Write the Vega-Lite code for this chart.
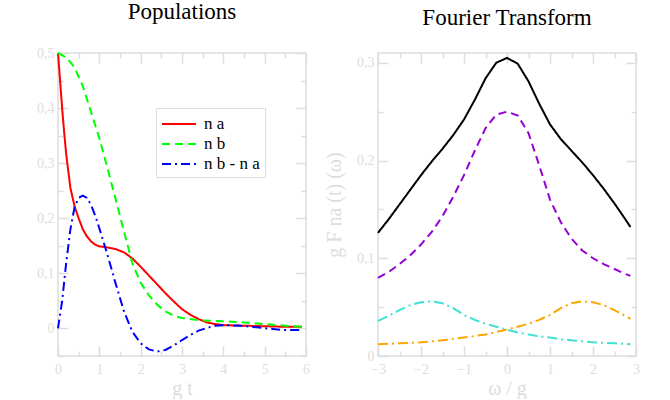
{
  "$schema": "https://vega.github.io/schema/vega-lite/v6.json",
  "padding": {"left": 35, "top": 0, "right": 5, "bottom": 0},
  "spacing": 12,
  "datasets": {
    "pop": [
      {"t": 0, "v": 0.5, "s": "n a"}, {"t": 0.05, "v": 0.45, "s": "n a"}, {"t": 0.1, "v": 0.4, "s": "n a"},
      {"t": 0.15, "v": 0.355, "s": "n a"}, {"t": 0.2, "v": 0.315, "s": "n a"}, {"t": 0.3, "v": 0.255, "s": "n a"},
      {"t": 0.4, "v": 0.222, "s": "n a"}, {"t": 0.5, "v": 0.2, "s": "n a"}, {"t": 0.6, "v": 0.18, "s": "n a"},
      {"t": 0.7, "v": 0.167, "s": "n a"}, {"t": 0.8, "v": 0.158, "s": "n a"}, {"t": 0.9, "v": 0.152, "s": "n a"},
      {"t": 1.0, "v": 0.149, "s": "n a"}, {"t": 1.2, "v": 0.147, "s": "n a"}, {"t": 1.4, "v": 0.144, "s": "n a"},
      {"t": 1.6, "v": 0.138, "s": "n a"}, {"t": 1.8, "v": 0.127, "s": "n a"}, {"t": 2.0, "v": 0.112, "s": "n a"},
      {"t": 2.2, "v": 0.096, "s": "n a"}, {"t": 2.4, "v": 0.08, "s": "n a"}, {"t": 2.6, "v": 0.064, "s": "n a"},
      {"t": 2.8, "v": 0.049, "s": "n a"}, {"t": 3.0, "v": 0.035, "s": "n a"}, {"t": 3.2, "v": 0.025, "s": "n a"},
      {"t": 3.4, "v": 0.017, "s": "n a"}, {"t": 3.6, "v": 0.011, "s": "n a"}, {"t": 3.8, "v": 0.008, "s": "n a"},
      {"t": 4.0, "v": 0.006, "s": "n a"}, {"t": 4.5, "v": 0.005, "s": "n a"}, {"t": 5.0, "v": 0.004, "s": "n a"},
      {"t": 5.5, "v": 0.003, "s": "n a"}, {"t": 5.9, "v": 0.003, "s": "n a"},

      {"t": 0, "v": 0.5, "s": "n b"}, {"t": 0.2, "v": 0.492, "s": "n b"}, {"t": 0.4, "v": 0.474, "s": "n b"},
      {"t": 0.6, "v": 0.44, "s": "n b"}, {"t": 0.8, "v": 0.393, "s": "n b"}, {"t": 1.0, "v": 0.345, "s": "n b"},
      {"t": 1.2, "v": 0.29, "s": "n b"}, {"t": 1.4, "v": 0.233, "s": "n b"}, {"t": 1.6, "v": 0.175, "s": "n b"},
      {"t": 1.8, "v": 0.118, "s": "n b"}, {"t": 2.0, "v": 0.083, "s": "n b"}, {"t": 2.2, "v": 0.06, "s": "n b"},
      {"t": 2.4, "v": 0.043, "s": "n b"}, {"t": 2.6, "v": 0.031, "s": "n b"}, {"t": 2.8, "v": 0.023, "s": "n b"},
      {"t": 3.0, "v": 0.019, "s": "n b"}, {"t": 3.4, "v": 0.015, "s": "n b"}, {"t": 4.0, "v": 0.013, "s": "n b"},
      {"t": 4.5, "v": 0.011, "s": "n b"}, {"t": 5.0, "v": 0.008, "s": "n b"}, {"t": 5.5, "v": 0.005, "s": "n b"},
      {"t": 5.9, "v": 0.003, "s": "n b"},

      {"t": 0, "v": 0, "s": "n b - n a"}, {"t": 0.1, "v": 0.05, "s": "n b - n a"}, {"t": 0.2, "v": 0.12, "s": "n b - n a"},
      {"t": 0.3, "v": 0.18, "s": "n b - n a"}, {"t": 0.4, "v": 0.22, "s": "n b - n a"}, {"t": 0.5, "v": 0.237, "s": "n b - n a"},
      {"t": 0.6, "v": 0.241, "s": "n b - n a"}, {"t": 0.7, "v": 0.237, "s": "n b - n a"}, {"t": 0.8, "v": 0.224, "s": "n b - n a"},
      {"t": 0.9, "v": 0.205, "s": "n b - n a"}, {"t": 1.0, "v": 0.182, "s": "n b - n a"}, {"t": 1.2, "v": 0.133, "s": "n b - n a"},
      {"t": 1.4, "v": 0.08, "s": "n b - n a"}, {"t": 1.6, "v": 0.03, "s": "n b - n a"}, {"t": 1.8, "v": -0.006, "s": "n b - n a"},
      {"t": 2.0, "v": -0.027, "s": "n b - n a"}, {"t": 2.2, "v": -0.038, "s": "n b - n a"}, {"t": 2.4, "v": -0.042, "s": "n b - n a"},
      {"t": 2.6, "v": -0.039, "s": "n b - n a"}, {"t": 2.8, "v": -0.031, "s": "n b - n a"}, {"t": 3.0, "v": -0.021, "s": "n b - n a"},
      {"t": 3.2, "v": -0.012, "s": "n b - n a"}, {"t": 3.4, "v": -0.004, "s": "n b - n a"}, {"t": 3.6, "v": 0.001, "s": "n b - n a"},
      {"t": 3.8, "v": 0.005, "s": "n b - n a"}, {"t": 4.0, "v": 0.006, "s": "n b - n a"}, {"t": 4.4, "v": 0.005, "s": "n b - n a"},
      {"t": 4.8, "v": 0.002, "s": "n b - n a"}, {"t": 5.2, "v": -0.001, "s": "n b - n a"}, {"t": 5.5, "v": -0.003, "s": "n b - n a"},
      {"t": 5.9, "v": -0.003, "s": "n b - n a"}
    ],
    "ft": [
      {"w": -3, "f": 0.126, "c": "total"}, {"w": -2.75, "f": 0.14, "c": "total"}, {"w": -2.5, "f": 0.155, "c": "total"},
      {"w": -2.25, "f": 0.17, "c": "total"}, {"w": -2, "f": 0.185, "c": "total"}, {"w": -1.75, "f": 0.199, "c": "total"},
      {"w": -1.5, "f": 0.212, "c": "total"}, {"w": -1.25, "f": 0.226, "c": "total"}, {"w": -1, "f": 0.242, "c": "total"},
      {"w": -0.75, "f": 0.262, "c": "total"}, {"w": -0.5, "f": 0.284, "c": "total"}, {"w": -0.25, "f": 0.3, "c": "total"},
      {"w": 0, "f": 0.305, "c": "total"}, {"w": 0.25, "f": 0.299, "c": "total"}, {"w": 0.5, "f": 0.281, "c": "total"},
      {"w": 0.75, "f": 0.258, "c": "total"}, {"w": 1, "f": 0.237, "c": "total"}, {"w": 1.25, "f": 0.222, "c": "total"},
      {"w": 1.5, "f": 0.21, "c": "total"}, {"w": 1.75, "f": 0.198, "c": "total"}, {"w": 2, "f": 0.185, "c": "total"},
      {"w": 2.25, "f": 0.171, "c": "total"}, {"w": 2.5, "f": 0.156, "c": "total"}, {"w": 2.75, "f": 0.14, "c": "total"},
      {"w": 2.87, "f": 0.132, "c": "total"},

      {"w": -3, "f": 0.08, "c": "main"}, {"w": -2.75, "f": 0.086, "c": "main"}, {"w": -2.5, "f": 0.094, "c": "main"},
      {"w": -2.25, "f": 0.103, "c": "main"}, {"w": -2, "f": 0.114, "c": "main"}, {"w": -1.75, "f": 0.127, "c": "main"},
      {"w": -1.5, "f": 0.143, "c": "main"}, {"w": -1.25, "f": 0.163, "c": "main"}, {"w": -1, "f": 0.185, "c": "main"},
      {"w": -0.75, "f": 0.21, "c": "main"}, {"w": -0.5, "f": 0.233, "c": "main"}, {"w": -0.25, "f": 0.247, "c": "main"},
      {"w": 0, "f": 0.25, "c": "main"}, {"w": 0.25, "f": 0.246, "c": "main"}, {"w": 0.5, "f": 0.228, "c": "main"},
      {"w": 0.75, "f": 0.195, "c": "main"}, {"w": 1, "f": 0.16, "c": "main"}, {"w": 1.25, "f": 0.137, "c": "main"},
      {"w": 1.5, "f": 0.12, "c": "main"}, {"w": 1.75, "f": 0.108, "c": "main"}, {"w": 2, "f": 0.1, "c": "main"},
      {"w": 2.25, "f": 0.094, "c": "main"}, {"w": 2.5, "f": 0.089, "c": "main"}, {"w": 2.75, "f": 0.084, "c": "main"},
      {"w": 2.87, "f": 0.082, "c": "main"},

      {"w": -3, "f": 0.036, "c": "left"}, {"w": -2.75, "f": 0.041, "c": "left"}, {"w": -2.5, "f": 0.047, "c": "left"},
      {"w": -2.25, "f": 0.052, "c": "left"}, {"w": -2, "f": 0.055, "c": "left"}, {"w": -1.75, "f": 0.056, "c": "left"},
      {"w": -1.5, "f": 0.054, "c": "left"}, {"w": -1.25, "f": 0.049, "c": "left"}, {"w": -1, "f": 0.042, "c": "left"},
      {"w": -0.75, "f": 0.037, "c": "left"}, {"w": -0.5, "f": 0.033, "c": "left"}, {"w": -0.25, "f": 0.03, "c": "left"},
      {"w": 0, "f": 0.027, "c": "left"}, {"w": 0.25, "f": 0.024, "c": "left"}, {"w": 0.5, "f": 0.022, "c": "left"},
      {"w": 0.75, "f": 0.02, "c": "left"}, {"w": 1, "f": 0.019, "c": "left"}, {"w": 1.25, "f": 0.017, "c": "left"},
      {"w": 1.5, "f": 0.016, "c": "left"}, {"w": 1.75, "f": 0.015, "c": "left"}, {"w": 2, "f": 0.014, "c": "left"},
      {"w": 2.5, "f": 0.013, "c": "left"}, {"w": 2.87, "f": 0.012, "c": "left"},

      {"w": -3, "f": 0.012, "c": "right"}, {"w": -2.5, "f": 0.013, "c": "right"}, {"w": -2, "f": 0.014, "c": "right"},
      {"w": -1.5, "f": 0.016, "c": "right"}, {"w": -1, "f": 0.019, "c": "right"}, {"w": -0.5, "f": 0.022, "c": "right"},
      {"w": 0, "f": 0.027, "c": "right"}, {"w": 0.25, "f": 0.03, "c": "right"}, {"w": 0.5, "f": 0.033, "c": "right"},
      {"w": 0.75, "f": 0.037, "c": "right"}, {"w": 1, "f": 0.042, "c": "right"}, {"w": 1.25, "f": 0.049, "c": "right"},
      {"w": 1.5, "f": 0.054, "c": "right"}, {"w": 1.75, "f": 0.056, "c": "right"}, {"w": 2, "f": 0.055, "c": "right"},
      {"w": 2.25, "f": 0.052, "c": "right"}, {"w": 2.5, "f": 0.047, "c": "right"}, {"w": 2.87, "f": 0.038, "c": "right"}
    ]
  },
  "hconcat": [
    {
      "title": "Populations",
      "width": 248,
      "height": 303,
      "data": {"name": "pop"},
      "layer": [
        {
          "mark": {"type": "line", "strokeWidth": 2},
          "encoding": {
            "x": {
              "field": "t", "type": "quantitative",
              "scale": {"domain": [0, 6], "nice": false},
              "axis": {
                "orient": "bottom", "title": "g t", "labelPadding": 16,
                "values": [0, 0.5, 1, 1.5, 2, 2.5, 3, 3.5, 4, 4.5, 5, 5.5, 6],
                "labelExpr": "datum.value % 1 === 0 ? format(datum.value, 'd') : ''",
                "tickSize": {"condition": {"test": "datum.value % 1 === 0", "value": -10}, "value": -5}
              }
            },
            "y": {
              "field": "v", "type": "quantitative",
              "scale": {"domain": [-0.05, 0.5], "nice": false, "zero": false},
              "axis": {
                "orient": "left", "title": null,
                "values": [-0.05, 0, 0.05, 0.1, 0.15, 0.2, 0.25, 0.3, 0.35, 0.4, 0.45, 0.5],
                "labelExpr": "abs(datum.value * 10 - round(datum.value * 10)) < 0.001 ? (datum.value == 0 ? '0' : replace(format(datum.value, '.1f'), '.', ',')) : ''",
                "tickSize": {"condition": {"test": "abs(datum.value * 10 - round(datum.value * 10)) < 0.001", "value": -10}, "value": -5}
              }
            },
            "color": {
              "field": "s", "type": "nominal",
              "scale": {"domain": ["n a", "n b", "n b - n a"], "range": ["#ff0000", "#00ff00", "#0000ff"]},
              "legend": {
                "title": null, "orient": "none", "legendX": 98, "legendY": 55,
                "symbolType": "M-1.7,0H1.7", "symbolSize": 400, "symbolStrokeWidth": 2, "symbolOffset": 7,
                "labelFontSize": 17, "labelColor": "black", "labelFont": "Liberation Serif",
                "strokeColor": "#dddddd", "fillColor": "white", "padding": 5, "rowPadding": 1,
                "labelOffset": 14
              }
            },
            "strokeDash": {
              "field": "s", "type": "nominal",
              "scale": {"domain": ["n a", "n b", "n b - n a"], "range": [[1, 0], [8, 5], [9, 4, 2, 4]]},
              "legend": {
                "title": null, "orient": "none", "legendX": 98, "legendY": 55,
                "symbolType": "M-1.7,0H1.7", "symbolSize": 400, "symbolStrokeWidth": 2, "symbolOffset": 7,
                "labelFontSize": 17, "labelColor": "black", "labelFont": "Liberation Serif",
                "strokeColor": "#dddddd", "fillColor": "white", "padding": 5, "rowPadding": 1,
                "labelOffset": 14
              }
            }
          }
        },
        {
          "mark": {"type": "point", "opacity": 0},
          "encoding": {
            "x": {
              "field": "t", "type": "quantitative",
              "axis": {
                "orient": "top", "title": null, "labels": false,
                "values": [0, 0.5, 1, 1.5, 2, 2.5, 3, 3.5, 4, 4.5, 5, 5.5, 6],
                "tickSize": {"condition": {"test": "datum.value % 1 === 0", "value": -10}, "value": -5}
              }
            },
            "y": {
              "field": "v", "type": "quantitative",
              "axis": {
                "orient": "right", "title": null, "labels": false,
                "values": [-0.05, 0, 0.05, 0.1, 0.15, 0.2, 0.25, 0.3, 0.35, 0.4, 0.45, 0.5],
                "tickSize": {"condition": {"test": "abs(datum.value * 10 - round(datum.value * 10)) < 0.001", "value": -10}, "value": -5}
              }
            }
          }
        }
      ],
      "resolve": {"axis": {"x": "independent", "y": "independent"}}
    },
    {
      "title": "Fourier Transform",
      "width": 258,
      "height": 303,
      "data": {"name": "ft"},
      "layer": [
        {
          "mark": {"type": "line", "strokeWidth": 2},
          "encoding": {
            "x": {
              "field": "w", "type": "quantitative",
              "scale": {"domain": [-3, 3], "nice": false},
              "axis": {
                "orient": "bottom", "title": "ω / g", "labelPadding": 16,
                "values": [-3, -2.5, -2, -1.5, -1, -0.5, 0, 0.5, 1, 1.5, 2, 2.5, 3],
                "labelExpr": "datum.value % 1 === 0 ? format(datum.value, 'd') : ''",
                "tickSize": {"condition": {"test": "datum.value % 1 === 0", "value": -10}, "value": -5}
              }
            },
            "y": {
              "field": "f", "type": "quantitative",
              "scale": {"domain": [0, 0.31], "nice": false},
              "axis": {
                "orient": "left", "title": "g F  na (t)  (ω)", "titlePadding": 12,
                "values": [0, 0.05, 0.1, 0.15, 0.2, 0.25, 0.3],
                "labelExpr": "abs(datum.value * 10 - round(datum.value * 10)) < 0.001 ? (datum.value == 0 ? '0' : replace(format(datum.value, '.1f'), '.', ',')) : ''",
                "tickSize": {"condition": {"test": "abs(datum.value * 10 - round(datum.value * 10)) < 0.001", "value": -10}, "value": -5}
              }
            },
            "color": {
              "field": "c", "type": "nominal", "legend": null,
              "scale": {"domain": ["total", "main", "left", "right"], "range": ["#000000", "#9400d3", "#40e0d0", "#ffa500"]}
            },
            "strokeDash": {
              "field": "c", "type": "nominal", "legend": null,
              "scale": {"domain": ["total", "main", "left", "right"], "range": [[1, 0], [8, 5], [10, 4, 2, 4], [10, 4, 2, 4]]}
            }
          }
        },
        {
          "mark": {"type": "point", "opacity": 0},
          "encoding": {
            "x": {
              "field": "w", "type": "quantitative",
              "axis": {
                "orient": "top", "title": null, "labels": false,
                "values": [-3, -2.5, -2, -1.5, -1, -0.5, 0, 0.5, 1, 1.5, 2, 2.5, 3],
                "tickSize": {"condition": {"test": "datum.value % 1 === 0", "value": -10}, "value": -5}
              }
            },
            "y": {
              "field": "f", "type": "quantitative",
              "axis": {
                "orient": "right", "title": null, "labels": false,
                "values": [0, 0.05, 0.1, 0.15, 0.2, 0.25, 0.3],
                "tickSize": {"condition": {"test": "abs(datum.value * 10 - round(datum.value * 10)) < 0.001", "value": -10}, "value": -5}
              }
            }
          }
        }
      ],
      "resolve": {"axis": {"x": "independent", "y": "independent"}}
    }
  ],
  "resolve": {"scale": {"color": "independent", "strokeDash": "independent"}},
  "config": {
    "font": "Liberation Serif",
    "view": {"stroke": "#dddddd", "strokeWidth": 1.5},
    "title": {"fontSize": 23, "fontWeight": "normal", "color": "black", "offset": 22},
    "axis": {
      "grid": false,
      "domain": false,
      "tickColor": "#dddddd",
      "tickWidth": 1.5,
      "labelColor": "#dddddd",
      "labelFontSize": 14,
      "labelPadding": 14,
      "labelOverlap": false,
      "labelFlush": false,
      "titleColor": "#dddddd",
      "titleFontSize": 20,
      "titleFontWeight": "normal",
      "titlePadding": -3
    }
  }
}
